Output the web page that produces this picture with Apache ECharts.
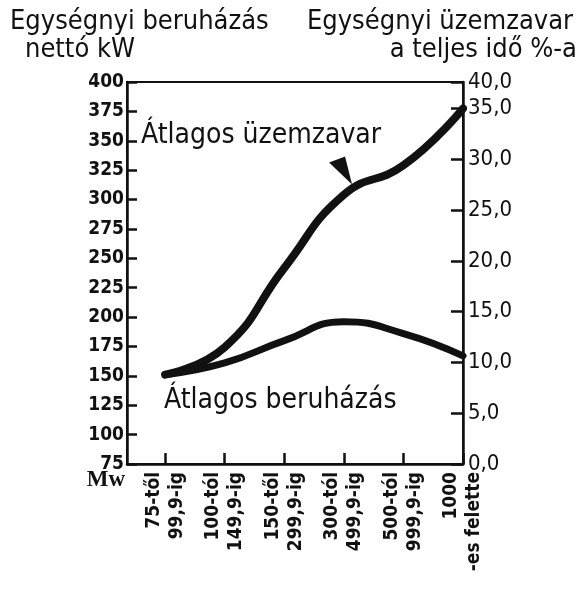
<!DOCTYPE html>
<html>
<head>
<meta charset="utf-8">
<script src="https://cdn.jsdelivr.net/npm/echarts@6/dist/echarts.min.js"></script>
<style>
html,body{margin:0;padding:0;background:#fff;}
#chart{width:583px;height:603px;}
</style>
</head>
<body>
<div id="chart"></div>
<script>
// ---- data ----
const xCategories = ['75-től\n99,9-ig', '100-tól\n149,9-ig', '150-től\n299,9-ig', '300-tól\n499,9-ig', '500-tól\n999,9-ig', '1000\n-es felette'];
const xPositions = [0, 1, 2, 3, 4, 5];
const beruhazas = [151, 161, 180, 196, 186, 167];      // kW (left axis)
const uzemzavar = [8.8, 11.5, 19.3, 26.5, 29.4, 35.0]; // % (right axis)
const leftTickMin = 75, leftTickMax = 400, leftTickStep = 25;
const rightTickStep = 5;
const rightTopLabel = '40,0';
const leftTitle = ['Egységnyi beruházás', 'nettó kW'];
const rightTitle = ['Egységnyi üzemzavar', 'a teljes idő %-a'];
const seriesNames = ['Átlagos beruházás', 'Átlagos üzemzavar'];
const xAxisName = 'Mw';

const FONT = '"DejaVu Sans Condensed", "DejaVu Sans", sans-serif';
const chart = echarts.init(document.getElementById('chart'));
const titleStyle = {fontFamily: FONT, fontSize: 27, fontWeight: 'normal', color: '#111'};
const option = {
  backgroundColor: '#fff',
  animation: false,
  title: [
    {text: leftTitle[0], left: 5, top: 3, textStyle: titleStyle},
    {text: leftTitle[1], left: 20, top: 31, textStyle: titleStyle},
    {text: rightTitle[0], right: 5, top: 3, textStyle: titleStyle},
    {text: rightTitle[1], right: 1, top: 31, textStyle: titleStyle}
  ],
  grid: {left: 127, right: 120, top: 82, bottom: 139, show: true, borderColor: '#111', borderWidth: 2, outerBoundsMode: 'none', containLabel: false},
  xAxis: {
    type: 'value', min: -0.64, max: 5,
    name: xAxisName, nameLocation: 'start', nameGap: 2, nameMoveOverlap: false,
    nameTextStyle: {fontFamily: '"Liberation Serif", serif', fontWeight: 'bold', fontSize: 23, color: '#111', verticalAlign: 'top', align: 'right', padding: [5, 0, 0, 0]},
    splitLine: {show: false},
    axisLine: {onZero: false, lineStyle: {color: '#111', width: 2.5}},
    axisTick: {inside: true, length: 11, lineStyle: {color: '#111', width: 2.5}, customValues: xPositions},
    axisLabel: {customValues: xPositions, rotate: 90, margin: 8, fontFamily: FONT, fontWeight: 'bold', fontSize: 19, lineHeight: 23, color: '#111',
      formatter: v => xCategories[Math.round(v)]}
  },
  yAxis: [
    {
      type: 'value', min: leftTickMin, max: leftTickMax, interval: leftTickStep, position: 'left',
      splitLine: {show: false},
      axisLine: {show: true, onZero: false, lineStyle: {color: '#111', width: 2.5}},
      axisTick: {show: true, inside: true, length: 10, lineStyle: {color: '#111', width: 2.5}},
      axisLabel: {margin: 3, fontFamily: FONT, fontWeight: 'bold', fontSize: 19, color: '#111', showMaxLabel: true, showMinLabel: true}
    },
    {
      type: 'value', min: 0, max: 37.6, interval: rightTickStep, position: 'right',
      splitLine: {show: false},
      axisLine: {show: true, onZero: false, lineStyle: {color: '#111', width: 2.5}},
      axisTick: {show: true, inside: true, length: 12, lineStyle: {color: '#111', width: 2.5}},
      axisLabel: {margin: 5, fontFamily: FONT, fontSize: 22, color: '#111', showMaxLabel: true, showMinLabel: true,
        formatter: v => v > 36 ? rightTopLabel : v.toFixed(1).replace('.', ',')}
    }
  ],
  series: [
    {
      name: seriesNames[0], type: 'line', yAxisIndex: 0, smooth: 0.5, symbol: 'none',
      lineStyle: {color: '#111', width: 7, cap: 'round'},
      data: xPositions.map((x, i) => [x, beruhazas[i]])
    },
    {
      name: seriesNames[1], type: 'line', yAxisIndex: 1, smooth: 0.5, symbol: 'none',
      lineStyle: {color: '#111', width: 8, cap: 'round'},
      data: xPositions.map((x, i) => [x, uzemzavar[i]]),
      markPoint: {
        symbol: 'path://M0,6 L16,0 L23,28 Z', symbolSize: [23, 28], silent: true,
        itemStyle: {color: '#111'}, label: {show: false},
        data: [{coord: [2.945, 28.9]}]
      }
    }
  ],
  graphic: [
    {type: 'text', left: 141, top: 122, style: {text: seriesNames[1], fontFamily: FONT, fontSize: 28, fill: '#111'}},
    {type: 'text', left: 164, top: 387, style: {text: seriesNames[0], fontFamily: FONT, fontSize: 28, fill: '#111'}}
  ]
};
chart.setOption(option);
</script>
</body>
</html>
